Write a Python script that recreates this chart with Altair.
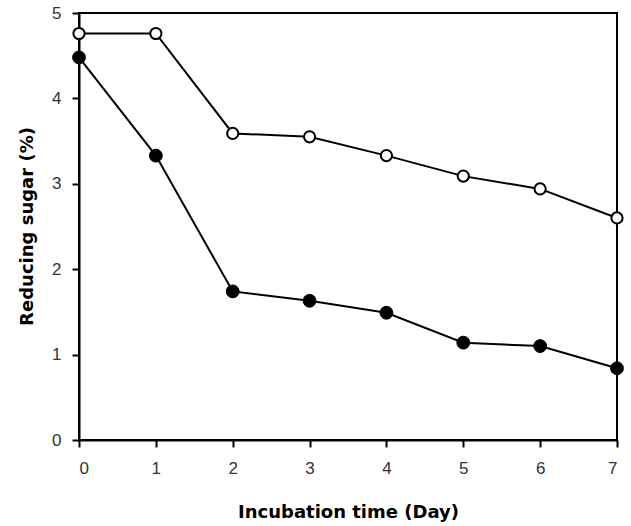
import altair as alt
import pandas as pd

days = [0, 1, 2, 3, 4, 5, 6, 7]
open_vals = [4.76, 4.76, 3.59, 3.55, 3.33, 3.09, 2.94, 2.60]
filled_vals = [4.48, 3.33, 1.74, 1.63, 1.49, 1.14, 1.10, 0.84]
x_ticks = [0, 1, 2, 3, 4, 5, 6, 7]
y_ticks = [0, 1, 2, 3, 4, 5]

df = pd.DataFrame({
    "day": days * 2,
    "sugar": open_vals + filled_vals,
    "series": ["open"] * len(days) + ["filled"] * len(days),
})

FONT = "Liberation Sans"
TFONT = "DejaVu Sans"

x_enc = alt.X("day:Q", scale=alt.Scale(domain=[0, 7], nice=False, zero=False),
              axis=alt.Axis(values=x_ticks, title="Incubation time (Day)", format="d",
                            titleY=72, titleBaseline="middle"))
y_enc = alt.Y("sugar:Q", scale=alt.Scale(domain=[0, 5], nice=False),
              axis=alt.Axis(values=y_ticks, title="Reducing sugar (%)", format="d",
                            titleX=-52, titleY=213, titleAngle=270, titleBaseline="middle",
                            titleAlign="center"))

base = alt.Chart(df).encode(x=x_enc, y=y_enc, detail="series:N")

lines = base.mark_line(color="black", strokeWidth=2, clip=False)

open_pts = alt.Chart(df[df.series == "open"]).mark_point(
    shape="circle", filled=True, fill="white", stroke="black", strokeWidth=2,
    size=125, opacity=1, clip=False
).encode(x="day:Q", y="sugar:Q")

filled_pts = alt.Chart(df[df.series == "filled"]).mark_point(
    shape="circle", filled=True, fill="black", stroke="black", strokeWidth=1,
    size=165, opacity=1, clip=False
).encode(x="day:Q", y="sugar:Q")

chart = alt.layer(lines, filled_pts, open_pts).properties(
    width=538, height=427,
    autosize=alt.AutoSizeParams(type="none"),
    padding={"left": 79, "top": 13, "right": 14, "bottom": 86},
    background="white",
).configure_view(
    stroke="black", strokeWidth=2
).configure_axis(
    grid=False, domainColor="black", domainWidth=2, tickColor="black", tickWidth=2,
    tickSize=7, labelFont=FONT, labelFontSize=17, labelColor="#333333",
    titleFont=TFONT, titleFontSize=18, titleFontWeight="bold", titleColor="black",
    zindex=0,
).configure_axisX(
    labelPadding=13,
).configure_axisY(
    labelPadding=11,
)

chart.save("out.html", embed_options={"renderer": "svg", "actions": False})
